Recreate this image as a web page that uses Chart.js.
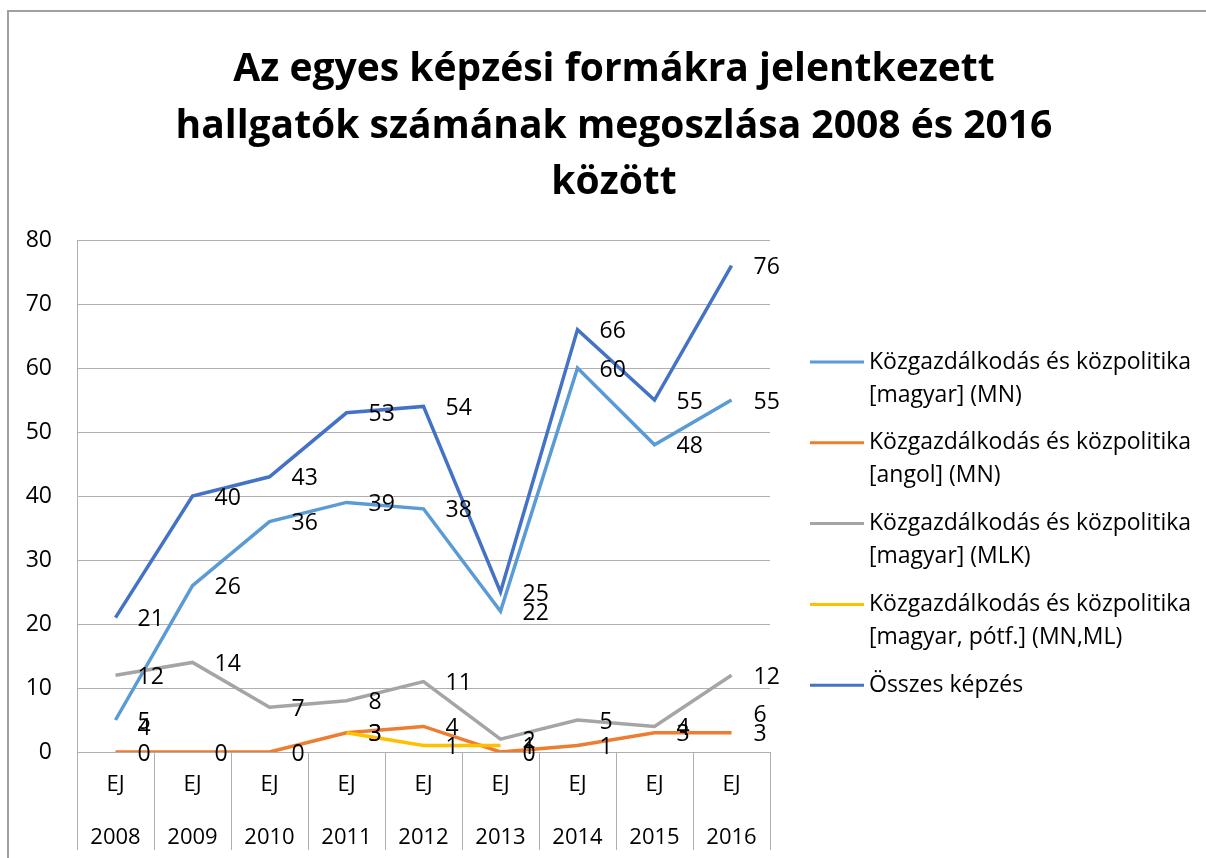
<!DOCTYPE html>
<html>
<head>
<meta charset="utf-8">
<script src="https://cdn.jsdelivr.net/npm/chart.js@4.4.1/dist/chart.umd.min.js"></script>
<style>
  html, body { margin: 0; padding: 0; background: #fff; }
</style>
</head>
<body>
<canvas id="myChart" width="1206" height="858"></canvas>
<script>
var titleLines = ['Az egyes képzési formákra jelentkezett',
                  'hallgatók számának megoszlása 2008 és 2016',
                  'között'];

var years = ['2008', '2009', '2010', '2011', '2012', '2013', '2014', '2015', '2016'];
var form = 'EJ';
var yTicks = [0, 10, 20, 30, 40, 50, 60, 70, 80];

var seriesNames = ['Közgazdálkodás és közpolitika [magyar] (MN)',
                   'Közgazdálkodás és közpolitika [angol] (MN)',
                   'Közgazdálkodás és közpolitika [magyar] (MLK)',
                   'Közgazdálkodás és közpolitika [magyar, pótf.] (MN,ML)',
                   'Összes képzés'];

var magyarMN  = [5, 26, 36, 39, 38, 22, 60, 48, 55];
var angolMN   = [0, 0, 0, 3, 4, 0, 1, 3, 3];
var magyarMLK = [12, 14, 7, 8, 11, 2, 5, 4, 12];
var potfMNML  = [4, null, null, 3, 1, 1, null, null, 6];
var osszes    = [21, 40, 43, 53, 54, 25, 66, 55, 76];

var seriesColors = ['#5B9BD5', '#ED7D31', '#A5A5A5', '#FFC000', '#4472C4'];
var seriesData = [magyarMN, angolMN, magyarMLK, potfMNML, osszes];

var fontFamily = '"Open Sans", "Noto Sans", sans-serif';
var gridColor = '#b0b0b0';

// excel style labels, right of each point
var pointLabels = {
    id: 'pointLabels',
    afterDatasetsDraw: function(chart) {
        var ctx = chart.ctx;
        ctx.save();
        ctx.font = '23px ' + fontFamily;
        ctx.fillStyle = '#000';
        ctx.textAlign = 'left';
        ctx.textBaseline = 'middle';
        chart.data.datasets.forEach(function(ds, i) {
            var meta = chart.getDatasetMeta(i);
            meta.data.forEach(function(pt, j) {
                if (ds.data[j] === null) return;
                ctx.fillText(ds.data[j], pt.x + 22, pt.y + 2);
            });
        });
        ctx.restore();
    }
};

function wrapText(ctx, text, maxWidth) {
    var words = text.split(' ');
    var lines = [];
    var line = '';
    words.forEach(function(w) {
        var test = line ? line + ' ' + w : w;
        if (line && ctx.measureText(test).width > maxWidth) {
            lines.push(line);
            line = w;
        } else {
            line = test;
        }
    });
    lines.push(line);
    return lines;
}

var sideLegend = {
    id: 'sideLegend',
    afterDraw: function(chart) {
        var ctx = chart.ctx;
        var x0 = chart.chartArea.right + 40;
        var y = 362;
        ctx.save();
        ctx.font = '23px ' + fontFamily;
        ctx.fillStyle = '#000';
        ctx.textAlign = 'left';
        ctx.textBaseline = 'middle';
        chart.data.datasets.forEach(function(ds) {
            ctx.strokeStyle = ds.borderColor;
            ctx.lineWidth = 3;
            ctx.beginPath();
            ctx.moveTo(x0, y);
            ctx.lineTo(x0 + 54, y);
            ctx.stroke();
            var lines = wrapText(ctx, ds.label, chart.width - x0 - 60);
            lines.forEach(function(l, k) {
                ctx.fillText(l, x0 + 59, y + k * 33);
            });
            y += 80.8;
        });
        ctx.restore();
    }
};

var frame = {
    id: 'frame',
    beforeDraw: function(chart) {
        var ctx = chart.ctx;
        ctx.save();
        ctx.strokeStyle = '#a0a0a0';
        ctx.lineWidth = 2;
        ctx.beginPath();
        ctx.moveTo(8, chart.height);
        ctx.lineTo(8, 11);
        ctx.lineTo(chart.width, 11);
        ctx.stroke();
        ctx.restore();
    }
};

var datasets = seriesNames.map(function(name, i) {
    return {
        label: name,
        data: seriesData[i],
        borderColor: seriesColors[i],
        backgroundColor: seriesColors[i],
        borderWidth: 3.5,
        pointRadius: 0,
        tension: 0,
        spanGaps: false,
        order: seriesNames.length - i
    };
});

var lineChart = new Chart(document.getElementById('myChart'), {
    type: 'line',
    data: {
        labels: years.map(function(y) { return [form, y]; }),
        datasets: datasets
    },
    options: {
        responsive: false,
        animation: false,
        devicePixelRatio: 1,
        layout: { padding: { left: 22, right: 0, top: 0, bottom: 0 } },
        plugins: {
            legend: { display: false },
            tooltip: { enabled: false },
            title: {
                display: true,
                text: titleLines,
                color: '#000',
                font: { family: fontFamily, size: 39, weight: 'bold', lineHeight: 1.449 },
                padding: { top: 41.75, bottom: 28.75 }
            }
        },
        scales: {
            x: {
                type: 'category',
                offset: true,
                grid: {
                    offset: true,
                    drawOnChartArea: false,
                    drawTicks: true,
                    tickLength: 98,
                    color: gridColor
                },
                border: { display: true, color: gridColor },
                ticks: {
                    color: '#000',
                    autoSkip: false,
                    maxRotation: 0,
                    padding: -91.5,
                    font: { family: fontFamily, size: 22, lineHeight: 2.409 }
                },
                afterFit: function(s) { s.height = 106; }
            },
            y: {
                min: 0,
                max: 80,
                afterBuildTicks: function(s) {
                    s.ticks = yTicks.map(function(v) { return { value: v }; });
                },
                grid: { color: gridColor, drawTicks: false },
                border: { display: true, color: gridColor },
                ticks: {
                    color: '#000',
                    padding: 25,
                    font: { family: fontFamily, size: 23 }
                },
                afterFit: function(s) { s.width = 55; }
            },
            yRight: {
                type: 'linear',
                position: 'right',
                grid: { display: false },
                border: { display: false },
                ticks: { display: false },
                afterFit: function(s) { s.width = 436; }
            }
        }
    },
    plugins: [frame, pointLabels, sideLegend]
});
</script>
</body>
</html>
